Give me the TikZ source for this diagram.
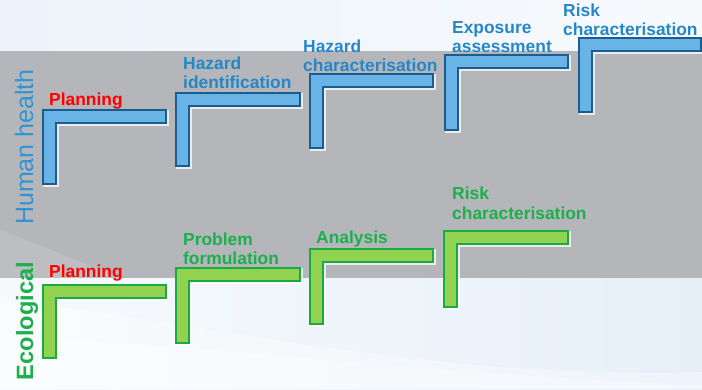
\documentclass[tikz,border=0pt]{standalone}
\usepackage{fontspec}
\newfontfamily\lab{Liberation Sans}
\definecolor{stepblue}{RGB}{105,180,230}
\definecolor{stepblueline}{RGB}{28,92,145}
\definecolor{stepgreen}{RGB}{145,210,80}
\definecolor{stepgreenline}{RGB}{25,170,70}
\definecolor{txtblue}{RGB}{38,135,200}
\definecolor{txtgreen}{RGB}{28,176,76}
\definecolor{hhblue}{RGB}{48,148,210}
\definecolor{bandgray}{RGB}{180,182,186}
\definecolor{bgtop}{RGB}{236,243,250}
\definecolor{bgbot}{RGB}{230,239,248}
\newcommand\mkLstep[5]{%
  \draw[halo] (#2+1,#3+1) -- (#4+1,#3+1) -- (#4+1,#3+14) -- (#2+14,#3+14) -- (#2+14,#5+1) -- (#2+1,#5+1) -- cycle;
  \draw[#1] (#2,#3) -- (#4,#3) -- (#4,#3+13) -- (#2+13,#3+13) -- (#2+13,#5) -- (#2,#5) -- cycle;}
\begin{document}
\begin{tikzpicture}[x=1pt,y=-1pt,
  bluestep/.style={fill=stepblue, draw=stepblueline, line width=1.8pt},
  greenstep/.style={fill=stepgreen, draw=stepgreenline, line width=1.8pt},
  halo/.style={draw=white, line width=3pt, opacity=0.75},
  lbl/.style={font=\lab\bfseries\fontsize{17.4}{19}\selectfont, inner sep=0pt, anchor=base west},
  hlbl/.style={lbl, text=txtblue},
  glbl/.style={lbl, text=txtgreen},
  rlbl/.style={lbl, text=red}]
\useasboundingbox (0,0) rectangle (702,389);
% background
\shade[left color=bgtop, right color=white!60!bgtop] (0,0) rectangle (702,51);
\fill[bandgray] (0,51) rectangle (702,278);
\shade[left color=white!70!bgbot, right color=bgbot] (0,278) rectangle (702,389);
\fill[white, opacity=0.35] (0,300) .. controls (200,320) and (420,380) .. (702,372) -- (702,389) -- (0,389) -- cycle;
\fill[white, opacity=0.3] (0,335) .. controls (250,350) and (450,375) .. (702,385) -- (702,389) -- (0,389) -- cycle;
\fill[white, opacity=0.12] (0,230) .. controls (40,245) and (80,262) .. (120,278) -- (0,278) -- cycle;
% human health steps
\mkLstep{bluestep}{43}{110}{166}{184}
\mkLstep{bluestep}{176}{93}{300}{166}
\mkLstep{bluestep}{310}{74}{433}{148}
\mkLstep{bluestep}{445}{55}{568}{130}
\mkLstep{bluestep}{579}{38}{701}{112}
% ecological steps
\mkLstep{greenstep}{43}{285}{166}{358}
\mkLstep{greenstep}{176}{268}{300}{343}
\mkLstep{greenstep}{310}{249}{433}{324}
\mkLstep{greenstep}{444}{231}{568}{307}
% side labels
\node[rotate=90, anchor=base, inner sep=0pt, text=hhblue, font=\lab\fontsize{25}{28}\selectfont] (hh) at (33,147) {Human health};
\node[rotate=90, anchor=base, inner sep=0pt, text=txtgreen, font=\lab\bfseries\fontsize{23.6}{26}\selectfont] (eco) at (33,321) {Ecological};
% human health labels
\node[rlbl] (hp) at (49,105) {Planning};
\node[hlbl] (hi1) at (183,69) {Hazard};
\node[hlbl] (hi2) at (183,88) {identification};
\node[hlbl] (hc1) at (303,52) {Hazard};
\node[hlbl] (hc2) at (303,71) {characterisation};
\node[hlbl] (ea1) at (452,33) {Exposure};
\node[hlbl] (ea2) at (452,52) {assessment};
\node[hlbl] (rc1) at (563,16) {Risk};
\node[hlbl] (rc2) at (563,35) {characterisation};
% ecological labels
\node[rlbl] (ep) at (49,277) {Planning};
\node[glbl] (pf1) at (183,245) {Problem};
\node[glbl] (pf2) at (183,264) {formulation};
\node[glbl] (an) at (316,243) {Analysis};
\node[glbl] (erc1) at (452,199) {Risk};
\node[glbl] (erc2) at (452,219) {characterisation};
\end{tikzpicture}
\end{document}
